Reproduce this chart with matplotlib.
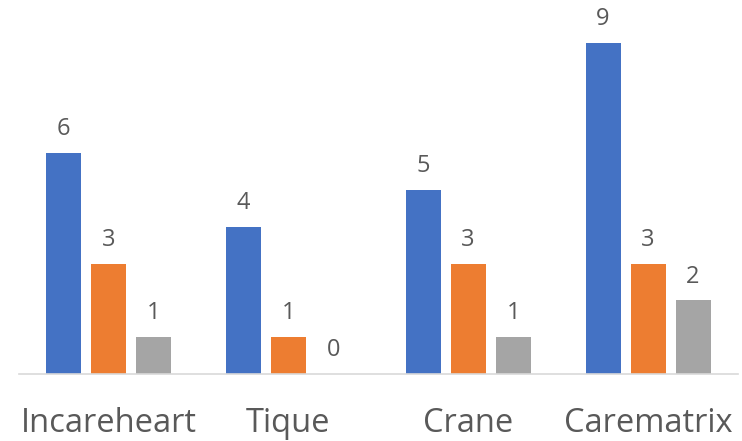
import numpy as np
import matplotlib
matplotlib.use("Agg")
import matplotlib.pyplot as plt

categories = ["Incareheart", "Tique", "Crane", "Carematrix"]
series_a = [6, 4, 5, 9]
series_b = [3, 1, 3, 3]
series_c = [1, 0, 1, 2]

colors = ["#4472C4", "#ED7D31", "#A5A5A5"]
text_color = "#595959"

plt.rcParams["font.family"] = ["Open Sans", "DejaVu Sans"]

fig = plt.figure(figsize=(7.42, 4.41), dpi=100)
ax = fig.add_axes([18.5 / 742, 67 / 441, 719.5 / 742, 368 / 441])

x = np.arange(len(categories))
width = 35 / 180
step = 45 / 180

for i, (vals, c) in enumerate(zip([series_a, series_b, series_c], colors)):
    pos = x + (i - 1) * step
    ax.bar(pos, vals, width=width, color=c, zorder=2)
    for p, v in zip(pos, vals):
        ax.text(p, v + 0.32, str(v), ha="center", va="bottom",
                fontsize=17, color=text_color)

ax.set_xlim(-0.5, len(categories) - 0.5)
ax.set_ylim(0, 10)
ax.set_yticks([])
ax.set_xticks(x)
ax.set_xticklabels(categories, fontsize=23.5, color=text_color)
ax.tick_params(axis="x", length=0, pad=24)
for s in ["top", "right", "left"]:
    ax.spines[s].set_visible(False)
ax.spines["bottom"].set_color("#D9D9D9")
ax.spines["bottom"].set_linewidth(1.2)

fig.savefig("out.png", dpi=100)
